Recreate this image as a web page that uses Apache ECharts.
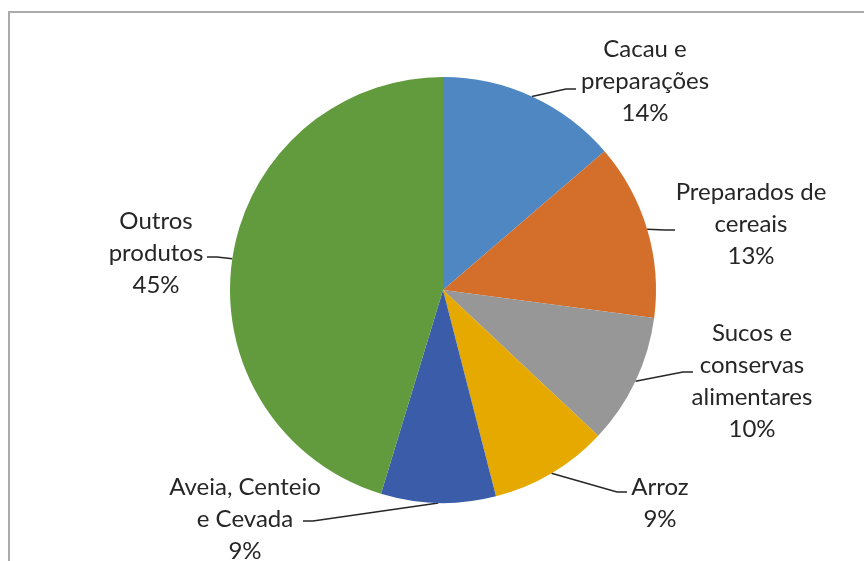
<!DOCTYPE html>
<html>
<head>
<meta charset="utf-8">
<script src="https://cdn.jsdelivr.net/npm/echarts@6/dist/echarts.min.js"></script>
<style>
  html, body { margin: 0; padding: 0; background: #fff; }
  #chart { width: 864px; height: 561px; }
</style>
</head>
<body>
<div id="chart"></div>
<script>
// dados
const categories = ['Cacau e\npreparações', 'Preparados de\ncereais', 'Sucos e\nconservas\nalimentares', 'Arroz', 'Aveia, Centeio\ne Cevada', 'Outros\nprodutos'];
const shares = [13.7, 13.4, 9.9, 9.0, 8.7, 45.3];
const colors = ['#4E87C1', '#D36F2B', '#979797', '#E5A900', '#3B5DA9', '#629A3E'];

// posição dos rótulos (centro do bloco) e fim da linha guia
const labelPos = [[645, 81], [751, 224], [752, 381], [660, 503], [245, 519], [156, 253]];
const lineEnd = [[576, 89], [675, 230], [693, 372], [627, 492], [303, 521], [207, 257]];

const chart = echarts.init(document.getElementById('chart'));

const option = {
  animation: false,
  backgroundColor: '#fff',
  graphic: [{
    type: 'rect',
    shape: { x: 9, y: 12, width: 900, height: 600 },
    style: { fill: 'none', stroke: '#ABABAB', lineWidth: 2 },
    silent: true
  }],
  series: [{
    type: 'pie',
    center: [443, 290],
    radius: 213,
    startAngle: 90,
    clockwise: true,
    avoidLabelOverlap: false,
    itemStyle: { borderWidth: 0 },
    label: {
      show: true,
      position: 'outside',
      fontFamily: 'Lato',
      fontSize: 24,
      lineHeight: 32,
      color: '#262626',
      overflow: 'none',
      formatter: p => p.name + '\n' + Math.round(p.percent) + '%'
    },
    labelLine: {
      show: true,
      length: 15,
      length2: 15,
      lineStyle: { color: '#262626', width: 1.5 }
    },
    labelLayout: function (params) {
      const i = params.dataIndex;
      const p0 = params.labelLinePoints[0];
      const end = lineEnd[i];
      const dir = end[0] > p0[0] ? 1 : -1;
      const elbow = [end[0] - dir * 10, end[1]];
      return {
        x: labelPos[i][0],
        y: labelPos[i][1],
        align: 'center',
        verticalAlign: 'middle',
        labelLinePoints: [p0, elbow, end]
      };
    },
    data: categories.map((c, i) => ({
      name: c,
      value: shares[i],
      itemStyle: { color: colors[i] },
      labelLine: { lineStyle: { color: '#262626' } }
    }))
  }]
};

chart.setOption(option);
</script>
</body>
</html>
